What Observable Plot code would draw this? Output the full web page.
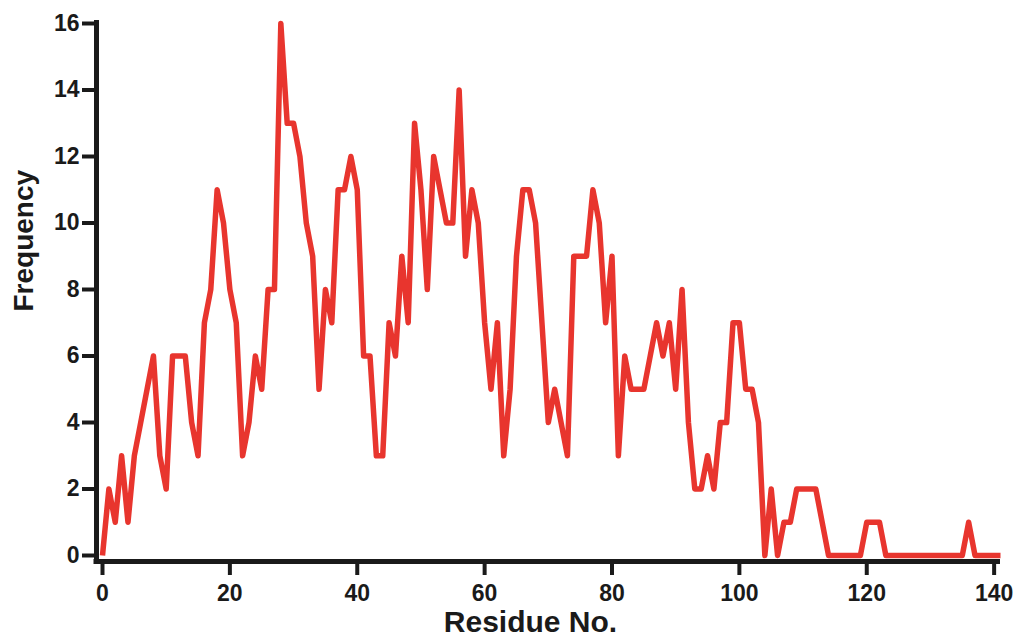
<!DOCTYPE html>
<html>
<head>
<meta charset="utf-8">
<script src="https://cdn.jsdelivr.net/npm/d3@7"></script>
<script src="https://cdn.jsdelivr.net/npm/@observablehq/plot@0.6"></script>
<style>
  html, body { margin: 0; padding: 0; background: #fff; }
</style>
</head>
<body>
<div id="chart"></div>
<script>
const residues = d3.range(0, 142);
const frequency = [
  0, 2, 1, 3, 1, 3, 4, 5, 6, 3,
  2, 6, 6, 6, 4, 3, 7, 8, 11, 10,
  8, 7, 3, 4, 6, 5, 8, 8, 16, 13,
  13, 12, 10, 9, 5, 8, 7, 11, 11, 12,
  11, 6, 6, 3, 3, 7, 6, 9, 7, 13,
  11, 8, 12, 11, 10, 10, 14, 9, 11, 10,
  7, 5, 7, 3, 5, 9, 11, 11, 10, 7,
  4, 5, 4, 3, 9, 9, 9, 11, 10, 7,
  9, 3, 6, 5, 5, 5, 6, 7, 6, 7,
  5, 8, 4, 2, 2, 3, 2, 4, 4, 7,
  7, 5, 5, 4, 0, 2, 0, 1, 1, 2,
  2, 2, 2, 1, 0, 0, 0, 0, 0, 0,
  1, 1, 1, 0, 0, 0, 0, 0, 0, 0,
  0, 0, 0, 0, 0, 0, 1, 0, 0, 0,
  0, 0
];
const xTicks = [0, 20, 40, 60, 80, 100, 120, 140];
const yTicks = [0, 2, 4, 6, 8, 10, 12, 14, 16];
const xTitle = "Residue No.";
const yTitle = "Frequency";

const data = residues.map((r, i) => ({residue: r, freq: frequency[i]}));

const ink = "#1a1a1a";
const red = "#e8352e";

const chart = Plot.plot({
  width: 1021,
  height: 637,
  marginLeft: 102,
  marginRight: 21,
  marginTop: 23,
  marginBottom: 82,
  style: {
    fontFamily: "'Liberation Sans', Arial, sans-serif",
    fontWeight: "bold",
    color: ink,
    background: "#fff",
    overflow: "visible"
  },
  x: {domain: [0, 141]},
  y: {domain: [0, 16]},
  marks: [
    Plot.axisX({
      ticks: xTicks, tickFormat: d => String(d), tickSize: 14, tickPadding: 9,
      dy: 6, strokeWidth: 4, fontSize: 23, fontWeight: "bold", label: null
    }),
    Plot.axisY({
      ticks: yTicks, tickFormat: d => String(d), tickSize: 14, tickPadding: 3,
      dx: -6, strokeWidth: 4, fontSize: 23, fontWeight: "bold", label: null
    }),
    Plot.ruleY([0], {dy: 6, insetLeft: -8.5, stroke: ink, strokeWidth: 5}),
    Plot.ruleX([0], {dx: -6, insetTop: -3, insetBottom: -8.5, stroke: ink, strokeWidth: 5}),
    Plot.line(data, {
      x: "residue", y: "freq", stroke: red, strokeWidth: 5.5,
      strokeLinejoin: "round", strokeLinecap: "butt"
    }),
    Plot.text([xTitle], {
      frameAnchor: "bottom", dx: -21, dy: 76, lineAnchor: "bottom",
      fontSize: 30, fontWeight: "bold", fill: ink
    }),
    Plot.text([yTitle], {
      frameAnchor: "left", rotate: -90, dx: -70, dy: 22, lineAnchor: "bottom",
      fontSize: 28, fontWeight: "bold", fill: ink
    })
  ]
});

document.getElementById("chart").appendChild(chart);
</script>
</body>
</html>
